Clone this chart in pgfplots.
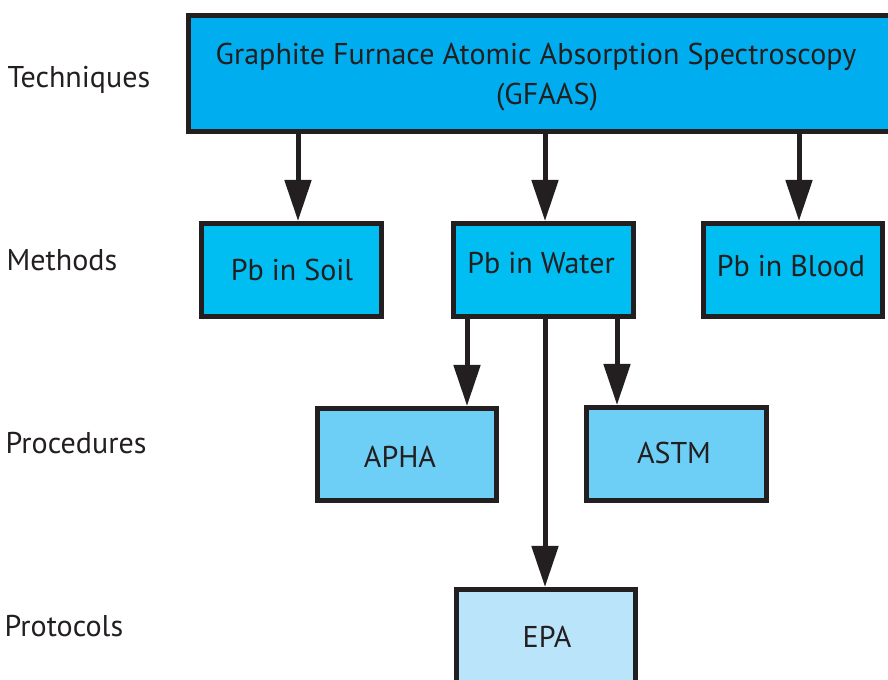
\documentclass[border=0pt]{standalone}
\usepackage{pgfplots}
\pgfplotsset{compat=1.18}
\usepackage{fontspec}
\setmainfont{PT Sans}
\usetikzlibrary{arrows.meta}
\definecolor{bord}{HTML}{231F20}
\definecolor{ctop}{HTML}{00AEEF}
\definecolor{cmeth}{HTML}{00BDF2}
\definecolor{cproc}{HTML}{6DCFF6}
\definecolor{cprot}{HTML}{B9E4F9}
\begin{document}
\begin{tikzpicture}[every node/.style={font=\fontsize{8.55pt}{10.2pt}\selectfont, text=bord, inner sep=0pt}]
\begin{axis}[
  scale only axis, width=8.88cm, height=6.8cm,
  xmin=0, xmax=888, ymin=0, ymax=680, y dir=reverse,
  hide axis, clip=true,
  boxstyle/.style={draw=bord, line width=0.5mm},
  arr/.style={draw=bord, line width=0.5mm, -{Triangle[length=4.1mm, width=2.6mm]}, shorten >=0pt},
]
\path (rel axis cs:0,0) rectangle (rel axis cs:1,1);
% boxes
\addplot[boxstyle, fill=ctop] coordinates {(188.5,15.5) (900,15.5) (900,131.5) (188.5,131.5)} --cycle;
\addplot[boxstyle, fill=cmeth] coordinates {(201.5,223.5) (381.5,223.5) (381.5,316.5) (201.5,316.5)} --cycle;
\addplot[boxstyle, fill=cmeth] coordinates {(453.5,223.5) (633.5,223.5) (633.5,316.5) (453.5,316.5)} --cycle;
\addplot[boxstyle, fill=cmeth] coordinates {(703.5,223.5) (882.5,223.5) (882.5,316.5) (703.5,316.5)} --cycle;
\addplot[boxstyle, fill=cproc] coordinates {(317.5,408.5) (496.5,408.5) (496.5,500.5) (317.5,500.5)} --cycle;
\addplot[boxstyle, fill=cproc] coordinates {(586.5,407.5) (766.5,407.5) (766.5,500.5) (586.5,500.5)} --cycle;
\addplot[boxstyle, fill=cprot] coordinates {(456.5,589.5) (635.5,589.5) (635.5,700) (456.5,700)} --cycle;
% arrows
\addplot[arr] coordinates {(298,134) (298,221)};
\addplot[arr] coordinates {(545,134) (545,221)};
\addplot[arr] coordinates {(799,134) (799,221)};
\addplot[arr] coordinates {(467,318) (467,406)};
\addplot[arr] coordinates {(617,318) (617,405)};
\addplot[arr] coordinates {(545,318) (545,587)};
% texts
\node[anchor=base west] at (axis cs:7,87) {Techniques};
\node[anchor=base west] at (axis cs:6,271) {Methods};
\node[anchor=base west] at (axis cs:5,454) {Procedures};
\node[anchor=base west] at (axis cs:4,637) {Protocols};
\node[anchor=base] at (axis cs:536,64) {Graphite Furnace Atomic Absorption Spectroscopy};
\node[anchor=base] at (axis cs:547,104) {(GFAAS)};
\node[anchor=base] at (axis cs:292,281) {Pb in Soil};
\node[anchor=base] at (axis cs:541,274) {Pb in Water};
\node[anchor=base] at (axis cs:791,277) {Pb in Blood};
\node[anchor=base] at (axis cs:400,468) {APHA};
\node[anchor=base] at (axis cs:674,464) {ASTM};
\node[anchor=base] at (axis cs:547,648) {EPA};
\end{axis}
\end{tikzpicture}
\end{document}
